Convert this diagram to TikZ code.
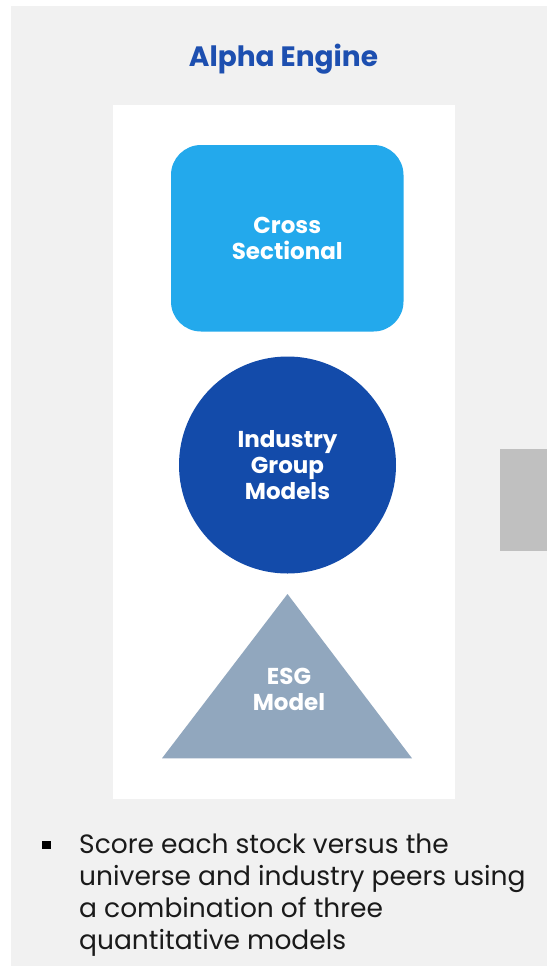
\documentclass[tikz,border=0pt]{standalone}
\usepackage{fontspec}
\setmainfont{Poppins}
\usetikzlibrary{shapes.geometric}
\definecolor{bgGray}{HTML}{F1F1F1}
\definecolor{titleBlue}{HTML}{1D4FB0}
\definecolor{lightBlue}{HTML}{23A9EC}
\definecolor{darkBlue}{HTML}{134BAA}
\definecolor{slate}{HTML}{91A7BE}
\definecolor{sideGray}{HTML}{C0C0C0}
\definecolor{bodyText}{HTML}{1A1A1A}
\tikzset{
  shapetext/.style={text=white, font=\bfseries\fontsize{23}{26}\selectfont, align=center, inner sep=0pt},
  bodyline/.style={anchor=base west, text=bodyText, font=\fontsize{26.5}{32}\selectfont, inner sep=0pt},
}
\begin{document}
\begin{tikzpicture}[x=1pt,y=-1pt]
\useasboundingbox (0,0) rectangle (547,966);
\fill[white] (0,0) rectangle (547,966);
\fill[bgGray] (11,6) rectangle (547,966);
\fill[white] (113,105) rectangle (455,799);
\fill[sideGray] (500,449) rectangle (547,551);
\node[anchor=base, text=titleBlue, font=\bfseries\fontsize{28}{32}\selectfont, inner sep=0pt] (title) at (283.5,66.7) {Alpha Engine};
\fill[lightBlue, rounded corners=30pt] (171,145) rectangle (403.5,331.5);
\node[shapetext] (cross) at (287.3,238) {Cross\\Sectional};
\fill[darkBlue] (287.5,465) circle (108.5);
\node[shapetext] (industry) at (287.5,465) {Industry\\Group\\Models};
\fill[slate] (287.5,594) -- (412,758.3) -- (162,758.3) -- cycle;
\node[shapetext] (esg) at (289,689) {ESG\\Model};
\fill[black] (42.3,840.7) rectangle (51,849.3);
\node[bodyline] (l1) at (79,853.3) {Score each stock versus the};
\node[bodyline] (l2) at (79,885.5) {universe and industry peers using};
\node[bodyline] (l3) at (79,917.5) {a combination of three};
\node[bodyline] (l4) at (79,949.5) {quantitative models};
\end{tikzpicture}
\end{document}
